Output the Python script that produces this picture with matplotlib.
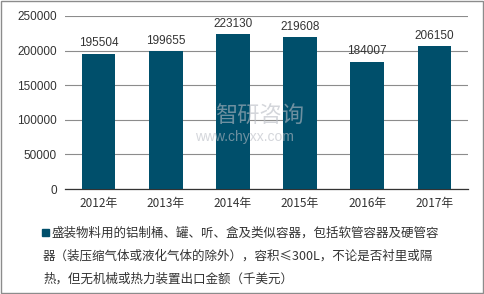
import matplotlib.pyplot as plt
from matplotlib.patches import Rectangle

years = ['2012年', '2013年', '2014年', '2015年', '2016年', '2017年']
values = [195504, 199655, 223130, 219608, 184007, 206150]
legend_lines = [
    '盛装物料用的铝制桶、罐、听、盒及类似容器，包括软管容器及硬管容',
    '器（装压缩气体或液化气体的除外），容积≤300L，不论是否衬里或隔',
    '热，但无机械或热力装置出口金额（千美元）',
]
yticks = [0, 50000, 100000, 150000, 200000, 250000]

bar_color = '#004f6b'
plt.rcParams['font.family'] = ['Liberation Sans', 'Noto Sans CJK SC', 'DejaVu Sans']

fig = plt.figure(figsize=(4.85, 2.94), dpi=100)
ax = fig.add_axes([0.134, 0.357, 0.831, 0.589])

x = range(len(years))
bars = ax.bar(x, values, width=0.5, color=bar_color, zorder=3)
for xi, v in zip(x, values):
    ax.text(xi, v + 6000, str(v), ha='center', va='bottom', fontsize=8.5, color='#333333')

ax.set_ylim(0, 250000)
ax.set_xlim(-0.5, len(years) - 0.5)
ax.set_yticks(yticks)
ax.set_yticklabels([str(t) for t in yticks], fontsize=8.5, color='#333333')
ax.set_xticks(list(x))
ax.set_xticklabels(years, fontsize=8.5, color='#333333',
                   fontfamily=['Noto Sans CJK SC', 'DejaVu Sans'])
ax.yaxis.grid(True, color='#8c8c8c', linewidth=0.8, zorder=0)
ax.tick_params(axis='both', length=0, pad=6)
for s in ['top', 'right', 'left']:
    ax.spines[s].set_visible(False)
ax.spines['bottom'].set_color('#333333')
ax.spines['bottom'].set_linewidth(0.9)

# watermark
fig.text(0.535, 0.605, '智研咨询', fontsize=16, color='#b8bcc4', alpha=0.6,
         ha='center', va='center', fontfamily=['Noto Sans CJK SC'], zorder=5)
fig.text(0.505, 0.535, 'www.chyxx.com', fontsize=10, color='#b8bcc4', alpha=0.6,
         ha='center', va='center', zorder=5)

# legend
fig.patches.append(Rectangle((42 / 485, 1 - 236 / 294), 7 / 485, 7 / 294,
                             transform=fig.transFigure, color=bar_color, figure=fig))
line_y = [233, 256, 279]
for txt, yy, xx in zip(legend_lines, line_y, [51, 43, 43]):
    fig.text(xx / 485, 1 - yy / 294, txt, fontsize=9.0, color='#333333', va='center',
             ha='left', fontfamily=['Noto Sans CJK SC', 'DejaVu Sans'])

# frame
fig.patches.append(Rectangle((0.002, 0.003), 0.994, 0.992, transform=fig.transFigure,
                             fill=False, edgecolor='#8c8c8c', linewidth=1, figure=fig))

fig.savefig('out.png', dpi=100)
